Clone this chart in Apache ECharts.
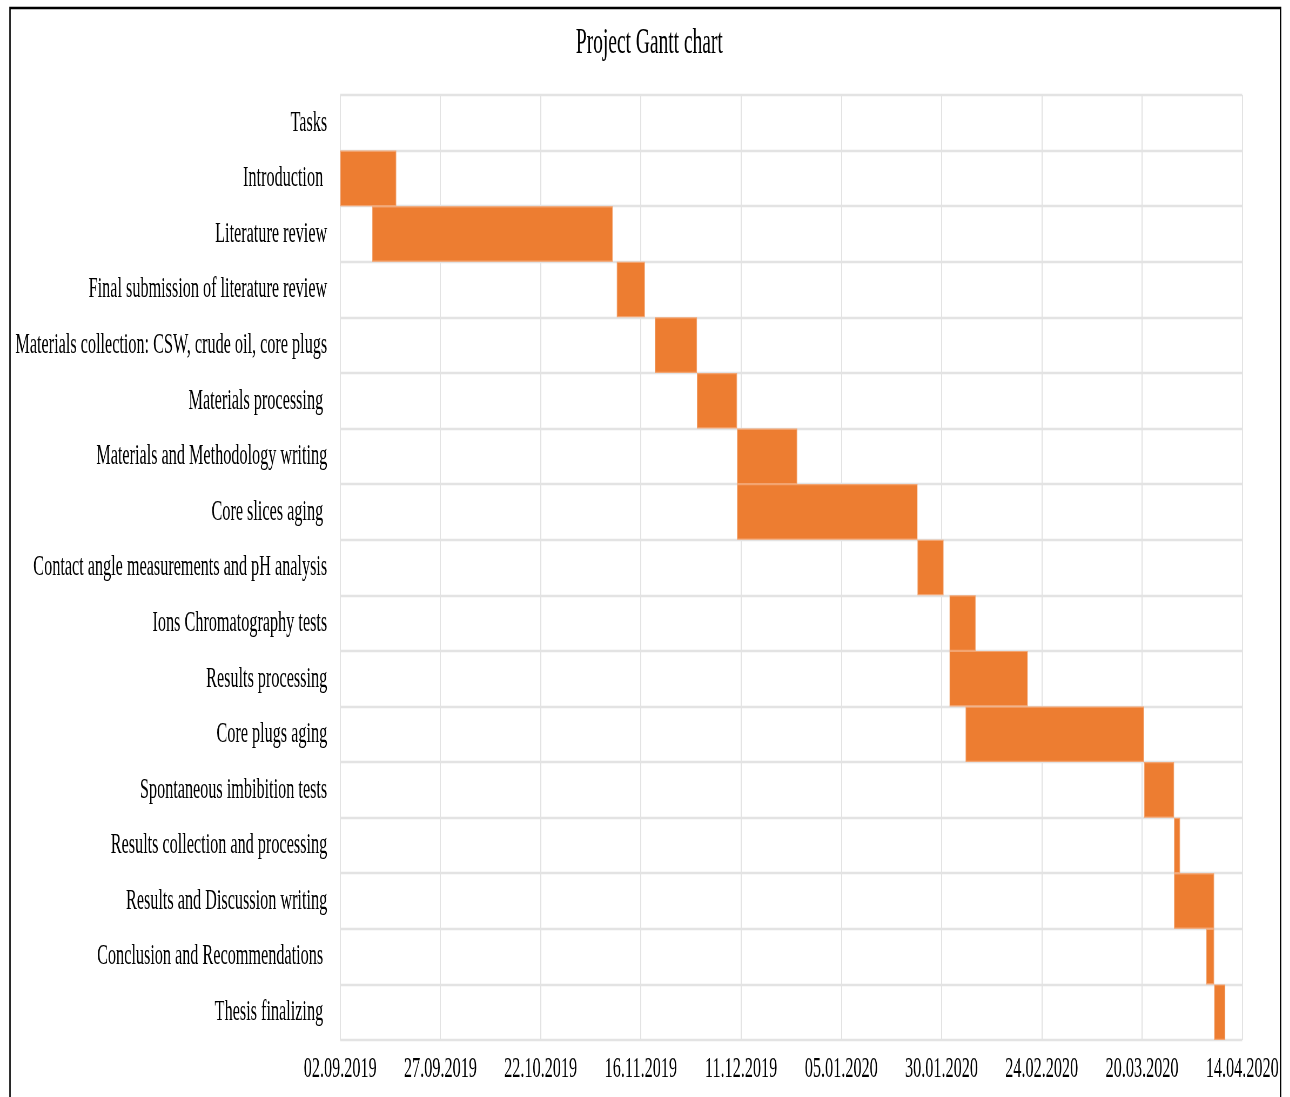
<!DOCTYPE html>
<html>
<head>
<meta charset="utf-8">
<title>Project Gantt chart</title>
<script src="https://cdn.jsdelivr.net/npm/echarts@6/dist/echarts.min.js"></script>
<style>
  html, body { margin: 0; padding: 0; background: #ffffff; overflow: hidden; }
  #stage { width: 1290px; height: 1097px; overflow: hidden; position: relative; }
  /* The chart is laid out on a wider canvas and squeezed horizontally,
     giving the narrow, condensed lettering of the printed figure. */
  #chart { position: absolute; left: 0; top: 0; height: 1097px; transform-origin: 0 0; }
</style>
</head>
<body>
<div id="stage"><div id="chart"></div></div>
<script>
// Project start (day 0 of the time axis)
const projectStart = '02.09.2019';

// Task rows, top to bottom ("Tasks" is the header row of the sheet)
const tasks = [
  'Tasks',
  'Introduction ',
  'Literature review',
  'Final submission of literature review',
  'Materials collection: CSW, crude oil, core plugs',
  'Materials processing ',
  'Materials and Methodology writing',
  'Core slices aging ',
  'Contact angle measurements and pH analysis',
  'Ions Chromatography tests',
  'Results processing',
  'Core plugs aging',
  'Spontaneous imbibition tests',
  'Results collection and processing',
  'Results and Discussion writing',
  'Conclusion and Recommendations ',
  'Thesis finalizing '
];

// Start of each task, in days after the project start
const startDay = [null, 0, 8, 69, 78.5, 89, 99, 99, 144, 152, 152, 156, 200.5, 208, 208, 216, 218];

// Duration of each task, in days
const durationDays = [null, 14, 60, 7, 10.5, 10, 15, 45, 6.5, 6.5, 19.5, 44.5, 7.5, 1.5, 10, 2, 2.75];

// Date labels on the time axis, one every 25 days
const tickLabels = ['02.09.2019', '27.09.2019', '22.10.2019', '16.11.2019', '11.12.2019',
                    '05.01.2020', '30.01.2020', '24.02.2020', '20.03.2020', '14.04.2020'];
const tickStep = 25;

// Horizontal squeeze applied to the whole drawing
const squeeze = 0.54;
const W = 1290 / squeeze;

const el = document.getElementById('chart');
el.style.width = W + 'px';
el.style.transform = 'scaleX(' + squeeze + ')';

const serif = '"Liberation Serif", "Times New Roman", serif';
const gridColor = '#e3e3e3';

const chart = echarts.init(el, null, { renderer: 'canvas', width: W, height: 1097 });

chart.setOption({
  backgroundColor: '#ffffff',
  animation: false,
  title: {
    text: 'Project Gantt chart',
    left: 573 / squeeze,
    top: 21,
    textStyle: { fontFamily: serif, fontSize: 36, fontWeight: 'normal', color: '#000000' }
  },
  graphic: [{
    type: 'rect',
    silent: true,
    shape: { x: 10 / squeeze, y: 8, width: 1270 / squeeze, height: 1120 },
    style: { fill: 'none', stroke: '#000000', lineWidth: 2.6 }
  }],
  grid: {
    left: 340 / squeeze,
    right: (1290 - 1241.7) / squeeze,
    top: 95,
    bottom: 57,
    containLabel: false
  },
  xAxis: {
    type: 'value',
    min: 0,
    max: tickStep * (tickLabels.length - 1),
    interval: tickStep,
    axisLine: { show: false },
    axisTick: { show: false },
    splitLine: { show: true, lineStyle: { color: gridColor, width: 2 } },
    axisLabel: {
      margin: 14,
      fontFamily: serif,
      fontSize: 30,
      color: '#000000',
      formatter: function (v) { return tickLabels[Math.round(v / tickStep)]; }
    }
  },
  yAxis: {
    type: 'category',
    data: tasks,
    inverse: true,
    axisLine: { show: false },
    axisTick: { show: false },
    splitLine: { show: true, lineStyle: { color: gridColor, width: 2.4 } },
    axisLabel: {
      margin: 24,
      fontFamily: serif,
      fontSize: 30,
      color: '#000000'
    }
  },
  series: [
    {
      name: 'Start',
      type: 'bar',
      stack: 'gantt',
      silent: true,
      barWidth: '100%',
      itemStyle: { color: 'transparent' },
      data: startDay
    },
    {
      name: 'Duration',
      type: 'bar',
      stack: 'gantt',
      barWidth: '100%',
      itemStyle: { color: '#ED7D31', borderColor: '#F3A470', borderWidth: 1.2 },
      data: durationDays
    }
  ]
});
</script>
</body>
</html>
